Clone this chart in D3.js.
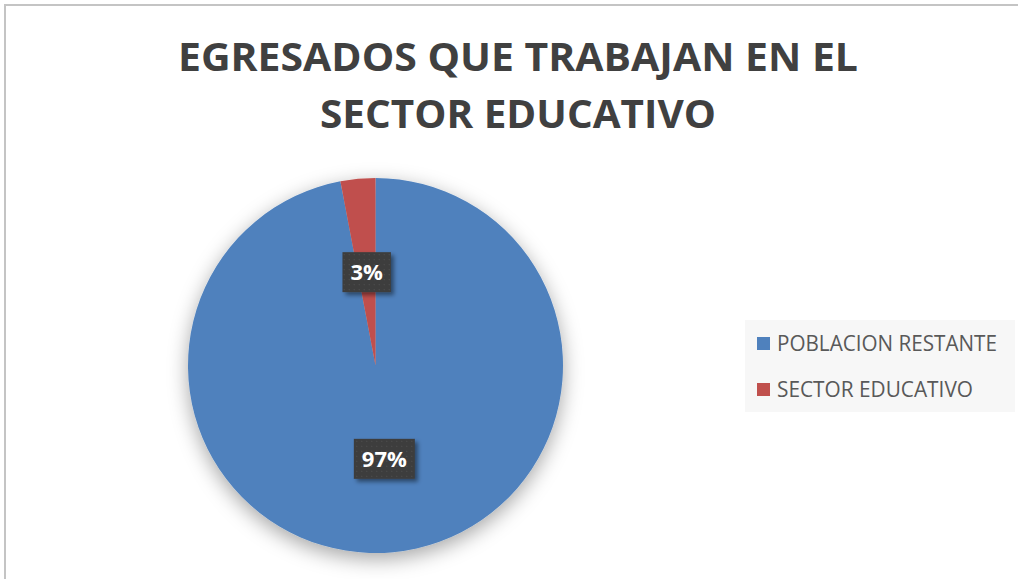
<!DOCTYPE html>
<html>
<head>
<meta charset="utf-8">
<script src="https://cdn.jsdelivr.net/npm/d3@7"></script>
<style>
  body { margin: 0; background: #fff; }
  svg { display: block; }
</style>
</head>
<body>
<div id="chart"></div>
<script>
// data
var categories = ["POBLACION RESTANTE", "SECTOR EDUCATIVO"];
var values = [97, 3];
var labels = ["97%", "3%"];
var colors = ["#4f81bd", "#c0504d"];
var titleLines = ["EGRESADOS QUE TRABAJAN EN EL", "SECTOR EDUCATIVO"];

var width = 1018, height = 579;
var cx = 375.5, cy = 365.5, radius = 187.5;

var svg = d3.select("#chart").append("svg")
  .attr("width", width)
  .attr("height", height);

var defs = svg.append("defs");

// soft shadow under the pie
var pieShadow = defs.append("filter")
  .attr("id", "pieShadow")
  .attr("x", "-30%").attr("y", "-30%")
  .attr("width", "160%").attr("height", "160%");
pieShadow.append("feDropShadow")
  .attr("dx", 0).attr("dy", 6)
  .attr("stdDeviation", 10)
  .attr("flood-color", "#000")
  .attr("flood-opacity", 0.35);

// shadow for the label boxes
var boxShadow = defs.append("filter")
  .attr("id", "boxShadow")
  .attr("x", "-30%").attr("y", "-30%")
  .attr("width", "160%").attr("height", "160%");
boxShadow.append("feDropShadow")
  .attr("dx", 3).attr("dy", 3)
  .attr("stdDeviation", 2)
  .attr("flood-color", "#000")
  .attr("flood-opacity", 0.45);

// dotted texture on the label boxes
var dots = defs.append("pattern")
  .attr("id", "dots")
  .attr("patternUnits", "userSpaceOnUse")
  .attr("width", 5).attr("height", 5);
dots.append("rect")
  .attr("width", 5).attr("height", 5)
  .attr("fill", "#3c3c3c");
dots.append("rect")
  .attr("x", 2).attr("y", 2)
  .attr("width", 1).attr("height", 1)
  .attr("fill", "#555");

// chart border (cropped at right / bottom in the reference)
svg.append("rect")
  .attr("x", 5).attr("y", 5)
  .attr("width", width + 20).attr("height", height + 20)
  .attr("fill", "#fff")
  .attr("stroke", "#c4c4c4")
  .attr("stroke-width", 2);

// title
var title = svg.append("text")
  .attr("x", 518)
  .attr("text-anchor", "middle")
  .style("font-family", "'Open Sans', 'Liberation Sans', sans-serif")
  .style("font-weight", "bold")
  .style("font-size", "40px")
  .attr("fill", "#404040");
title.selectAll("tspan")
  .data(titleLines)
  .enter().append("tspan")
  .attr("x", 518)
  .attr("y", function (d, i) { return 71 + i * 57; })
  .attr("textLength", function (d, i) { return i === 0 ? 680 : 396; })
  .attr("lengthAdjust", "spacingAndGlyphs")
  .text(function (d) { return d; });

// pie
var pie = d3.pie()
  .sort(null)
  .value(function (d) { return d; });
var arc = d3.arc()
  .innerRadius(0)
  .outerRadius(radius);

var arcs = pie(values);

var g = svg.append("g")
  .attr("transform", "translate(" + cx + "," + cy + ")");

g.append("g")
  .attr("filter", "url(#pieShadow)")
  .selectAll("path")
  .data(arcs)
  .enter().append("path")
  .attr("d", arc)
  .attr("fill", function (d, i) { return colors[i]; });

// data labels
var lab = g.selectAll(".lab")
  .data(arcs)
  .enter().append("g")
  .attr("class", "lab")
  .attr("transform", function (d) {
    var c = arc.centroid(d);
    return "translate(" + c[0] + "," + c[1] + ")";
  });

lab.append("text")
  .attr("text-anchor", "middle")
  .attr("dy", "0.36em")
  .style("font-family", "'Open Sans', 'Liberation Sans', sans-serif")
  .style("font-weight", "bold")
  .style("font-size", "22px")
  .attr("fill", "#fff")
  .text(function (d, i) { return labels[i]; });

lab.each(function () {
  var grp = d3.select(this);
  var t = grp.select("text");
  var w = t.node().getComputedTextLength() + 16;
  var h = 40;
  grp.insert("rect", "text")
    .attr("x", -w / 2).attr("y", -h / 2)
    .attr("width", w).attr("height", h)
    .attr("fill", "url(#dots)")
    .attr("filter", "url(#boxShadow)");
});

// legend
var legend = svg.append("g");
legend.append("rect")
  .attr("x", 745).attr("y", 320)
  .attr("width", 270).attr("height", 92)
  .attr("fill", "#f7f7f7");

var item = legend.selectAll(".item")
  .data(categories)
  .enter().append("g")
  .attr("class", "item")
  .attr("transform", function (d, i) { return "translate(757," + (337 + i * 46) + ")"; });

item.append("rect")
  .attr("width", 13).attr("height", 13)
  .attr("fill", function (d, i) { return colors[i]; });

item.append("text")
  .attr("x", 20)
  .attr("y", 14)
  .attr("textLength", function (d, i) { return i === 0 ? 220 : 196; })
  .attr("lengthAdjust", "spacingAndGlyphs")
  .style("font-family", "'Open Sans', 'Liberation Sans', sans-serif")
  .style("font-size", "21px")
  .attr("fill", "#595959")
  .text(function (d) { return d; });
</script>
</body>
</html>
